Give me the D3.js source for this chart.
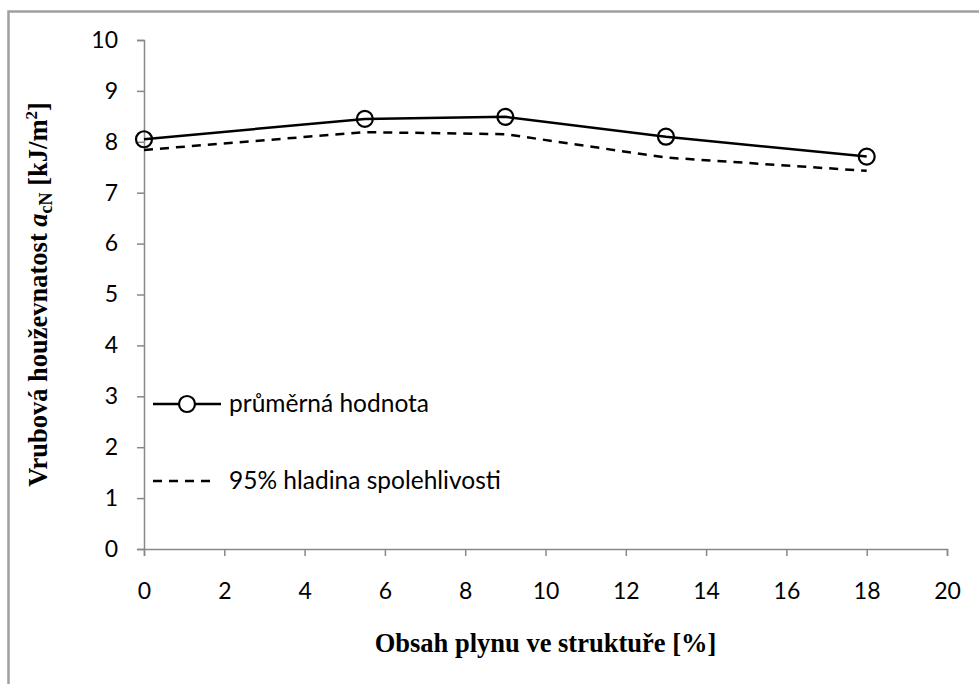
<!DOCTYPE html>
<html lang="cs">
	<head>
		<meta charset="utf-8">
		<title>vrubova houzevnatost</title>
		<script type="text/javascript" src="https://cdnjs.cloudflare.com/ajax/libs/d3/7.8.5/d3.min.js"></script>
		<style type="text/css">
			body {
			  margin: 0;
			  background: #fff;
			}
			.axis path,
			.axis line {
			  fill: none;
			  stroke: #888;
			  stroke-width: 1.5px;
			}
			.axis text {
			  font-family: "Lato", "Open Sans", sans-serif;
			  font-size: 23px;
			  fill: #000;
			}
			.title {
			  font-family: "Liberation Serif", "Times New Roman", serif;
			  font-weight: bold;
			  font-size: 26.5px;
			}
			.legend text {
			  font-family: "Lato", "Open Sans", sans-serif;
			  font-size: 24.5px;
			}
		</style>
	</head>
	<body>
		<script type="text/javascript">

			var w = 979,
			    h = 684;

			// data
			var gas = [0, 5.5, 9, 13, 18];
			var mean_val = [8.05, 8.45, 8.49, 8.10, 7.71];
			var conf_val = [7.84, 8.19, 8.15, 7.69, 7.43];
			var xTicks = [0, 2, 4, 6, 8, 10, 12, 14, 16, 18, 20];
			var yTicks = [0, 1, 2, 3, 4, 5, 6, 7, 8, 9, 10];
			var legend_names = ["průměrná hodnota", "95% hladina spolehlivosti"];

			var xScale = d3.scaleLinear().domain([0, 20]).range([144, 947]);
			var yScale = d3.scaleLinear().domain([0, 10]).range([549, 40]);

			var svg = d3.select("body")
			            .append("svg")
			            .attr("width", w)
			            .attr("height", h);

			// outer frame
			svg.append("rect")
			   .attr("x", 8.5)
			   .attr("y", 11.5)
			   .attr("width", 990)
			   .attr("height", 700)
			   .attr("fill", "none")
			   .attr("stroke", "#a0a0a0")
			   .attr("stroke-width", 2.5);

			svg.append("g")
			   .attr("class", "axis")
			   .attr("transform", "translate(0," + yScale(0) + ")")
			   .call(d3.axisBottom(xScale).tickValues(xTicks).tickSizeOuter(0).tickSize(7).tickPadding(27));

			svg.append("g")
			   .attr("class", "axis")
			   .attr("transform", "translate(" + xScale(0) + ",0)")
			   .call(d3.axisLeft(yScale).tickValues(yTicks).tickSizeOuter(0).tickSize(7).tickPadding(19));

			// line data
			var mean_table = [], conf_table = [];
			for (var i = 0; i < gas.length; i++) {
				mean_table.push([gas[i], mean_val[i]]);
				conf_table.push([gas[i], conf_val[i]]);
			}

			var line = d3.line()
			             .x(function(d){ return xScale(d[0]); })
			             .y(function(d){ return yScale(d[1]); });

			svg.append("path")
			   .attr("d", line(conf_table))
			   .attr("fill", "none")
			   .attr("stroke", "#000")
			   .attr("stroke-width", 2.5)
			   .attr("stroke-dasharray", "9,7");

			svg.append("path")
			   .attr("d", line(mean_table))
			   .attr("fill", "none")
			   .attr("stroke", "#000")
			   .attr("stroke-width", 2.5);

			svg.selectAll("circle.pt")
			   .data(mean_table)
			   .enter()
			   .append("circle")
			   .attr("class", "pt")
			   .attr("cx", function(d){ return xScale(d[0]); })
			   .attr("cy", function(d){ return yScale(d[1]); })
			   .attr("r", 8)
			   .attr("fill", "none")
			   .attr("stroke", "#000")
			   .attr("stroke-width", 2.2);

			// legend
			var legend = svg.append("g").attr("class", "legend");

			legend.append("line")
			   .attr("x1", 153).attr("x2", 221)
			   .attr("y1", 404).attr("y2", 404)
			   .attr("stroke", "#000").attr("stroke-width", 2.5);
			legend.append("circle")
			   .attr("cx", 187).attr("cy", 404).attr("r", 8)
			   .attr("fill", "#fff").attr("stroke", "#000").attr("stroke-width", 2.2);
			legend.append("text")
			   .attr("x", 229).attr("y", 412)
			   .text(legend_names[0]);

			legend.append("line")
			   .attr("x1", 153).attr("x2", 215)
			   .attr("y1", 481).attr("y2", 481)
			   .attr("stroke", "#000").attr("stroke-width", 2.5)
			   .attr("stroke-dasharray", "9,7");
			legend.append("text")
			   .attr("x", 229).attr("y", 489)
			   .text(legend_names[1]);

			// axis titles
			svg.append("text")
			   .attr("class", "title")
			   .attr("text-anchor", "middle")
			   .attr("x", (xScale(0) + xScale(20)) / 2)
			   .attr("y", 652)
			   .text("Obsah plynu ve struktuře [%]");

			var ytitle = svg.append("text")
			   .attr("class", "title")
			   .attr("text-anchor", "middle")
			   .attr("transform", "translate(47," + (yScale(0) + yScale(10)) / 2 + ") rotate(-90)");
			ytitle.append("tspan").text("Vrubová houževnatost ");
			ytitle.append("tspan").attr("font-style", "italic").text("a");
			ytitle.append("tspan").attr("font-size", "18px").attr("dy", 5).text("cN");
			ytitle.append("tspan").attr("dy", -5).text(" [kJ/m");
			ytitle.append("tspan").attr("font-size", "17px").attr("dy", -10).text("2");
			ytitle.append("tspan").attr("dy", 10).text("]");

		</script>
	</body>
</html>
